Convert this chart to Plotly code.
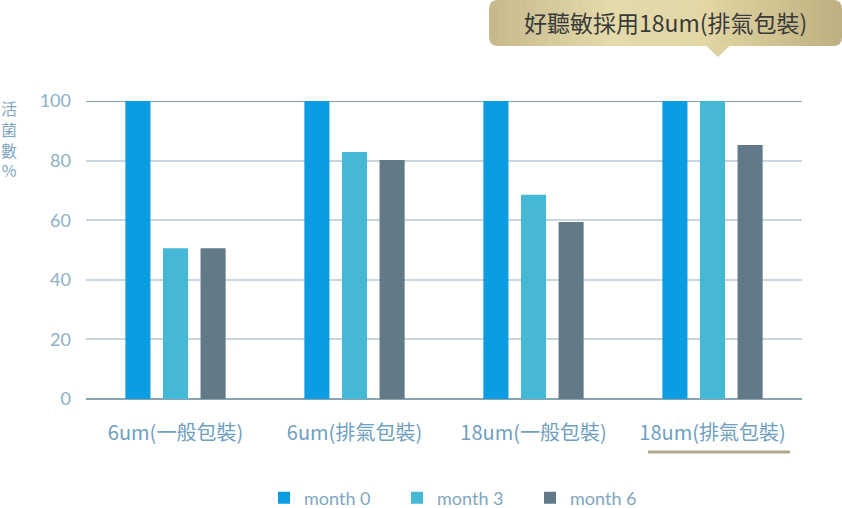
import plotly.graph_objects as go

categories = ["6um(一般包裝)", "6um(排氣包裝)", "18um(一般包裝)", "18um(排氣包裝)"]
series_names = ["month 0", "month 3", "month 6"]
month0 = [100, 100, 100, 100]
month3 = [50.6, 82.9, 68.5, 100]
month6 = [50.6, 80.2, 59.4, 85.2]
y_ticks = [0, 20, 40, 60, 80, 100]
callout_text = "好聽敏採用18um(排氣包裝)"
y_title = "活菌數%"

colors = ["#0b9ce1", "#45b8d6", "#627a87"]

W, H = 842, 508
ML, MR, MT, MB = 86, 40, 101, 109
PW, PH = W - ML - MR, H - MT - MB


def px(x):
    return (x - ML) / PW


def py(y):
    return (H - MB - y) / PH


fig = go.Figure()
for name, vals, c in zip(series_names, [month0, month3, month6], colors):
    fig.add_trace(go.Bar(x=categories, y=vals, name=name, marker=dict(color=c, line=dict(width=0))))

shapes = []
shapes.append(dict(type="line", xref="paper", yref="y", x0=0, x1=1, y0=y_ticks[-1], y1=y_ticks[-1],
                   line=dict(color="#8aa4b2", width=2), layer="below"))

bx0, bx1, by0, by1 = 489, 842, 0, 46
r = 9


def lerp(c1, c2, t):
    return tuple(int(round(a + (b - a) * t)) for a, b in zip(c1, c2))


stops = [(0.0, (198, 185, 140)), (0.35, (228, 218, 170)), (0.6, (226, 215, 165)), (1.0, (190, 176, 128))]


def grad(t):
    for i in range(len(stops) - 1):
        t0, c0 = stops[i]
        t1, c1 = stops[i + 1]
        if t0 <= t <= t1:
            return "rgb(%d,%d,%d)" % lerp(c0, c1, (t - t0) / (t1 - t0))
    return "rgb(%d,%d,%d)" % stops[-1][1]


def rounded_end(xa, xb, left):
    if left:
        path = (f"M {px(xb)},{py(by0)} L {px(xa + r)},{py(by0)} Q {px(xa)},{py(by0)} {px(xa)},{py(by0 + r)} "
                f"L {px(xa)},{py(by1 - r)} Q {px(xa)},{py(by1)} {px(xa + r)},{py(by1)} L {px(xb)},{py(by1)} Z")
    else:
        path = (f"M {px(xa)},{py(by0)} L {px(xb - r)},{py(by0)} Q {px(xb)},{py(by0)} {px(xb)},{py(by0 + r)} "
                f"L {px(xb)},{py(by1 - r)} Q {px(xb)},{py(by1)} {px(xb - r)},{py(by1)} L {px(xa)},{py(by1)} Z")
    return path


shapes.append(dict(type="path", xref="paper", yref="paper", path=rounded_end(bx0, bx0 + r + 1, True),
                   fillcolor=grad(0.0), line=dict(width=0), layer="above"))
shapes.append(dict(type="path", xref="paper", yref="paper", path=rounded_end(bx1 - r - 1, bx1, False),
                   fillcolor=grad(1.0), line=dict(width=0), layer="above"))
n = 60
sx0, sx1 = bx0 + r, bx1 - r
for i in range(n):
    a = sx0 + (sx1 - sx0) * i / n
    b = sx0 + (sx1 - sx0) * (i + 1) / n + 0.6
    t = ((a + b) / 2 - bx0) / (bx1 - bx0)
    shapes.append(dict(type="rect", xref="paper", yref="paper", x0=px(a), x1=px(b), y0=py(by0), y1=py(by1),
                       fillcolor=grad(t), line=dict(width=0), layer="above"))
tx = 718
tt = (tx - bx0) / (bx1 - bx0)
shapes.append(dict(type="path", xref="paper", yref="paper",
                   path=f"M {px(tx - 12)},{py(by1 - 0.5)} L {px(tx + 12)},{py(by1 - 0.5)} L {px(tx)},{py(57)} Z",
                   fillcolor=grad(tt), line=dict(width=0), layer="above"))
shapes.append(dict(type="line", xref="paper", yref="paper", x0=px(648), x1=px(790), y0=py(452), y1=py(452),
                   line=dict(color="#b3a98c", width=3)))

annotations = [
    dict(text=callout_text, xref="paper", yref="paper", x=px(665), y=py(22), showarrow=False,
         font=dict(family="Noto Sans CJK TC", size=23, color="#3a3a3a"), xanchor="center", yanchor="middle"),
    dict(text="<br>".join(list(y_title)), xref="paper", yref="paper", x=px(9), y=py(94), showarrow=False,
         font=dict(family="Noto Sans CJK TC", size=16, color="#7fa6bf"), xanchor="center", yanchor="top",
         align="center"),
]

fig.update_layout(
    width=W, height=H,
    margin=dict(l=ML, r=MR, t=MT, b=MB, pad=0, autoexpand=False),
    paper_bgcolor="white", plot_bgcolor="white",
    barmode="group", bargap=0.37, bargroupgap=0.333,
    shapes=shapes, annotations=annotations,
    showlegend=True,
    legend=dict(orientation="h", x=px(264), y=py(498), xanchor="left", yanchor="middle",
                font=dict(family="Lato", size=18, color="#7fa6bf"),
                entrywidth=88, entrywidthmode="pixels", itemsizing="constant", traceorder="normal"),
    xaxis=dict(showgrid=False, showline=False, ticks="", zeroline=False,
               tickfont=dict(family="Noto Sans CJK TC", size=20, color="#6f9fc0"),
               ticklabelstandoff=20, fixedrange=True),
    yaxis=dict(range=[0, 100], tickvals=y_ticks, showgrid=True, gridcolor="#c8d6df", gridwidth=1.5,
               zeroline=True, zerolinecolor="#8aa4b2", zerolinewidth=2, showline=False, ticks="",
               tickfont=dict(family="Lato", size=18, color="#8db0c6"), ticklabelstandoff=14,
               fixedrange=True),
    font=dict(family="Noto Sans CJK TC"),
)

fig.write_html("out.html", config={"displayModeBar": False},
               post_script="document.body.style.margin='0';document.body.style.overflow='hidden';")
